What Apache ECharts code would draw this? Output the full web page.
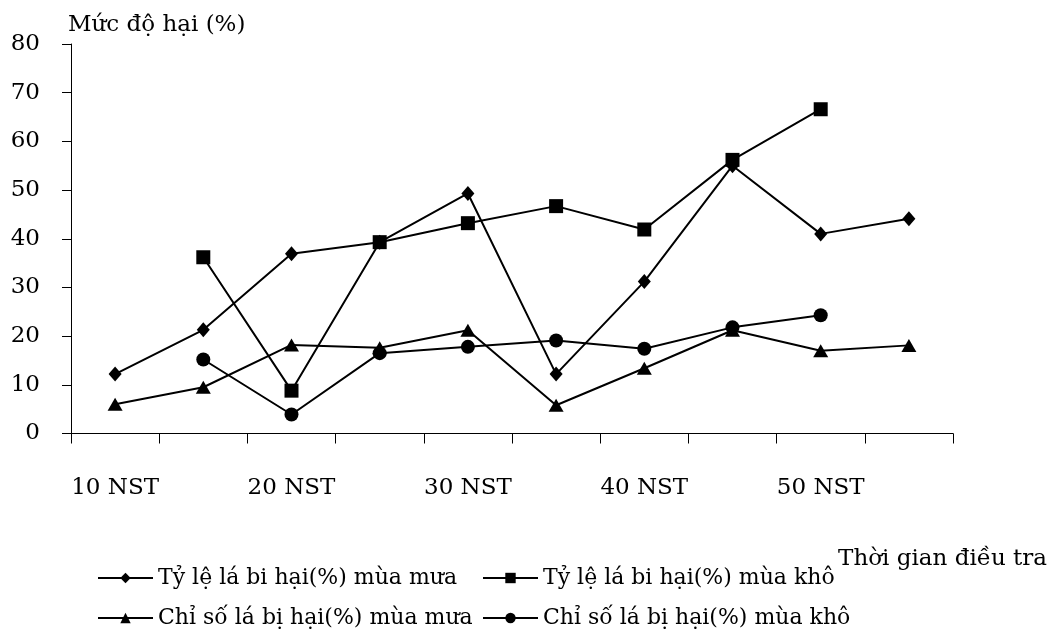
<!DOCTYPE html>
<html>
<head>
<meta charset="utf-8">
<script src="https://cdn.jsdelivr.net/npm/echarts@6/dist/echarts.min.js"></script>
<style>
  html, body { margin: 0; padding: 0; background: #fff; }
  #chart { width: 1053px; height: 641px; }
</style>
</head>
<body>
<div id="chart"></div>
<script>
// Survey times (days after planting); only every other label is shown
const categories = ['10 NST', '15 NST', '20 NST', '25 NST', '30 NST', '35 NST', '40 NST', '45 NST', '50 NST', '55 NST'];
const yTicks = [0, 10, 20, 30, 40, 50, 60, 70, 80];

// Damage levels (%)
const tyLeMuaMua = [12.2, 21.3, 36.9, 39.3, 49.3, 12.2, 31.2, 55.0, 41.0, 44.1];
const tyLeMuaKho = [null, 36.2, 8.8, 39.3, 43.2, 46.7, 41.9, 56.2, 66.6, null];
const chiSoMuaMua = [6.0, 9.5, 18.2, 17.6, 21.2, 5.8, 13.4, 21.2, 17.0, 18.1];
const chiSoMuaKho = [null, 15.2, 3.9, 16.5, 17.8, 19.1, 17.4, 21.8, 24.3, null];

const names = [
  'Tỷ lệ lá bi hại(%) mùa mưa',
  'Tỷ lệ lá bi hại(%) mùa khô',
  'Chỉ số lá bị hại(%) mùa mưa',
  'Chỉ số lá bị hại(%) mùa khô'
];

const FONT = 'DejaVu Serif';
const INK = '#000';

function lineSeries(name, data, symbol, size) {
  return {
    name, type: 'line', data,
    symbol, symbolSize: size,
    showAllSymbol: true,
    connectNulls: false,
    lineStyle: { color: INK, width: 2 },
    itemStyle: { color: INK },
    emphasis: { disabled: true },
    animation: false,
    z: 3
  };
}

const legendCommon = {
  orient: 'vertical',
  top: 567,
  padding: 0,
  itemWidth: 55,
  itemHeight: 13,
  itemGap: 18,
  textStyle: { fontFamily: FONT, fontSize: 22, color: INK },
  selectedMode: false
};

const chart = echarts.init(document.getElementById('chart'), null, { renderer: 'canvas' });
chart.setOption({
  backgroundColor: '#fff',
  animation: false,
  grid: { left: 71, right: 100, top: 44, bottom: 207.5, containLabel: false },
  xAxis: {
    type: 'category',
    data: categories,
    boundaryGap: true,
    axisLine: { lineStyle: { color: INK, width: 1 } },
    axisTick: { show: true, length: 10, interval: 0, lineStyle: { color: INK } },
    axisLabel: { interval: 1, margin: 43, fontFamily: FONT, fontSize: 23, color: INK },
    splitLine: { show: false }
  },
  yAxis: {
    type: 'value',
    min: yTicks[0], max: yTicks[yTicks.length - 1], interval: 10,
    axisLine: { show: true, lineStyle: { color: INK, width: 1 } },
    axisTick: { show: true, length: 9, lineStyle: { color: INK } },
    axisLabel: { margin: 31, fontFamily: FONT, fontSize: 23, color: INK },
    splitLine: { show: false }
  },
  legend: [
    Object.assign({ left: 97, data: [names[0], names[2]] }, legendCommon),
    Object.assign({ left: 482, data: [names[1], names[3]] }, legendCommon)
  ],
  graphic: [
    { type: 'text', left: 68, top: 14,
      style: { text: 'Mức độ hại (%)', font: '23px "' + FONT + '"', fill: INK } },
    { type: 'text', right: 6, top: 548,
      style: { text: 'Thời gian điều tra', font: '23px "' + FONT + '"', fill: INK } }
  ],
  series: [
    lineSeries(names[0], tyLeMuaMua, 'diamond', [13, 15]),
    lineSeries(names[1], tyLeMuaKho, 'rect', 14),
    lineSeries(names[2], chiSoMuaMua, 'triangle', [15, 13]),
    lineSeries(names[3], chiSoMuaKho, 'circle', 14)
  ]
});
</script>
</body>
</html>
